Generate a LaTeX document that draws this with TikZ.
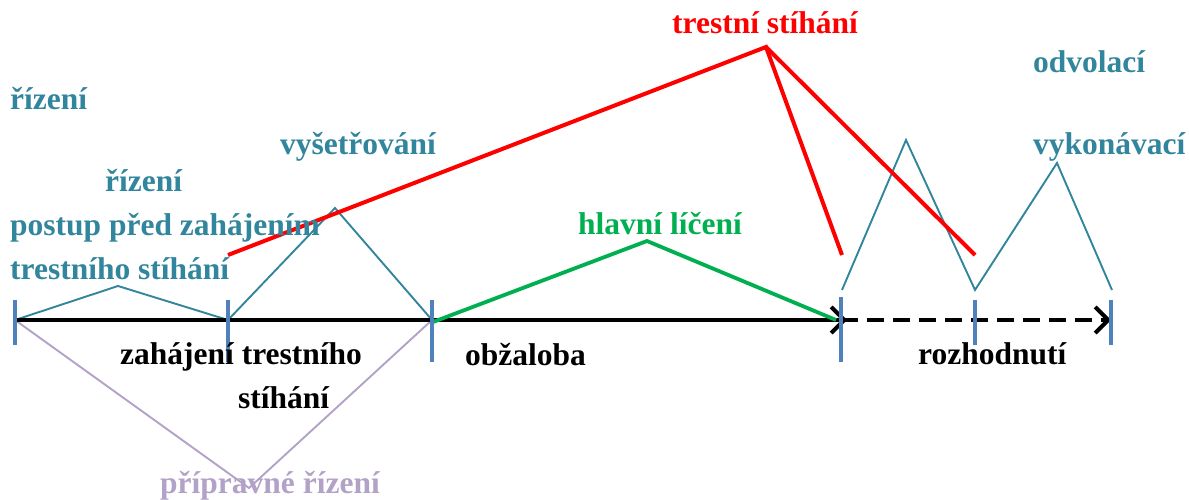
\documentclass[tikz,border=0pt]{standalone}
\usepackage{fontspec}
\setmainfont{Liberation Serif}
\usetikzlibrary{arrows.meta}
\definecolor{tealc}{HTML}{31859C}
\definecolor{tickc}{HTML}{4F81BD}
\definecolor{lavc}{HTML}{B3A2C7}
\definecolor{greenc}{HTML}{00B050}
\definecolor{redc}{HTML}{FF0000}
\tikzset{
  lbl/.style={anchor=base west, inner sep=0pt, font=\fontsize{31.5}{36}\selectfont\bfseries},
  tickmark/.style={draw=tickc, line width=3.6pt},
  tealline/.style={draw=tealc, line width=1.9pt, line join=miter},
  lavline/.style={draw=lavc, line width=1.9pt},
  greenline/.style={draw=greenc, line width=3.8pt},
  redline/.style={draw=redc, line width=4pt},
  axis/.style={draw=black, line width=3.6pt, -{Straight Barb[length=13pt,width=26pt,line width=4pt]}},
  dashaxis/.style={axis, dash pattern=on 17pt off 9pt}
}
\begin{document}
\begin{tikzpicture}[x=1pt,y=-1pt]
\useasboundingbox (0,0) rectangle (1189,500);
% axis points
\coordinate (t0) at (15,320);
\coordinate (t1) at (228,320);
\coordinate (t2) at (432,320);
\coordinate (t3) at (841,320);
\coordinate (t4) at (975,320);
\coordinate (t5) at (1111,320);
\coordinate (a3) at (847,320);
\coordinate (a5) at (1111,320);
% teal peaks
\coordinate (p1) at (118,286);
\coordinate (p2) at (335,208);
\coordinate (r0) at (842,290);
\coordinate (p3) at (906,140);
\coordinate (r1) at (975,290);
\coordinate (p4) at (1057,163);
\coordinate (r2) at (1112,290);
% lavender
\coordinate (lv) at (249,488);
% green
\coordinate (g0) at (433,322);
\coordinate (gp) at (647,241);
\coordinate (g1) at (836,320);
% red
\coordinate (rs) at (228,255);
\coordinate (rp) at (766,47);
\coordinate (re1) at (842,255);
\coordinate (re2) at (975,255);

% lines
\draw[lavline] (t0) -- (lv) -- (t2);
\draw[tealline] (t0) -- (p1) -- (t1);
\draw[tealline] (t1) -- (p2) -- (t2);
\draw[tealline] (r0) -- (p3) -- (r1) -- (p4) -- (r2);
\draw[axis] (t0) -- (a3);
\draw[dashaxis] (t3) -- (a5);
\draw[greenline] (g0) -- (gp) -- (g1);
\draw[redline] (rs) -- (rp) -- (re1);
\draw[redline] (rp) -- (re2);

% ticks
\draw[tickmark] (15,300) -- (15,345);
\draw[tickmark] (228,300) -- (228,362);
\draw[tickmark] (432,300) -- (432,362);
\draw[tickmark] (841,297) -- (841,362);
\draw[tickmark] (975,300) -- (975,345);
\draw[tickmark] (1111,300) -- (1111,345);

% texts
\node[lbl, text=redc] (ts) at (672,34) {trestní stíhání};
\node[lbl, text=tealc] (odv) at (1033,73) {odvolací};
\node[lbl, text=tealc] (vyk) at (1033,154) {vykonávací};
\node[lbl, text=tealc] (riz1) at (10,110) {řízení};
\node[lbl, text=tealc] (vys) at (280,154) {vyšetřování};
\node[lbl, text=tealc] (riz2) at (105,191) {řízení};
\node[lbl, text=tealc] (pps) at (10,235) {postup před zahájením};
\node[lbl, text=tealc] (tst) at (10,279) {trestního stíhání};
\node[lbl, text=greenc] (hl) at (578,234) {hlavní líčení};
\node[lbl] (zt) at (120,364) {zahájení trestního};
\node[lbl] (st) at (238,408) {stíhání};
\node[lbl] (obz) at (465,365) {obžaloba};
\node[lbl] (roz) at (918,364) {rozhodnutí};
\node[lbl, text=lavc] (pr) at (160,493) {přípravné řízení};
\end{tikzpicture}
\end{document}
